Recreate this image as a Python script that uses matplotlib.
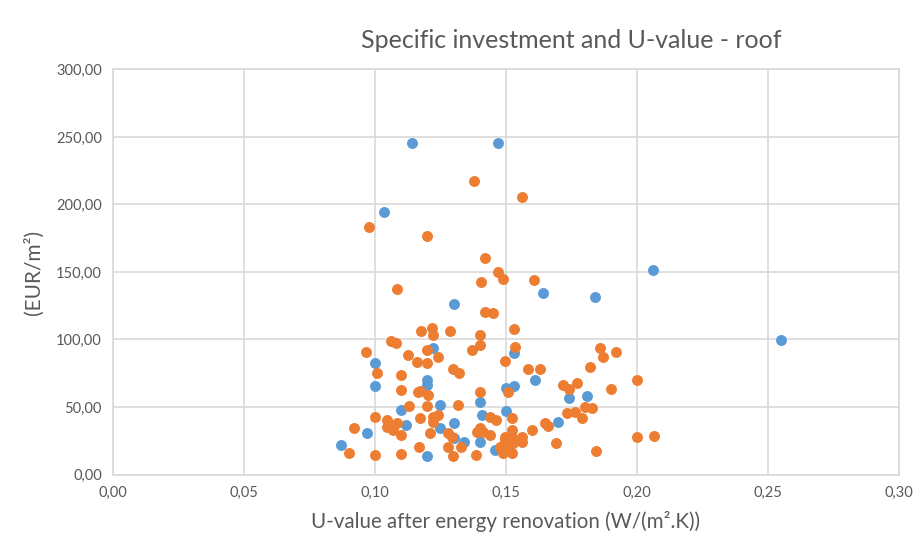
import matplotlib.pyplot as plt
from matplotlib.ticker import FuncFormatter, MultipleLocator

plt.rcParams['font.family'] = ['Lato', 'DejaVu Sans']

# U-value (W/(m2.K)) and specific investment (EUR/m2), two groups of roofs
u_blue = [0.087, 0.097, 0.100, 0.100, 0.110, 0.112, 0.122, 0.120, 0.120,
          0.125, 0.130, 0.125, 0.130, 0.134, 0.120, 0.140, 0.141, 0.140,
          0.146, 0.150, 0.153, 0.150, 0.153, 0.161, 0.174, 0.170, 0.181,
          0.114, 0.147, 0.1035, 0.130, 0.164, 0.184, 0.206, 0.255]
cost_blue = [21.9, 30.5, 82.8, 65.8, 47.8, 36.7, 93.5, 70.0, 66.3,
             51.5, 37.9, 34.2, 26.8, 24.3, 13.7, 53.9, 44.1, 24.3,
             18.1, 63.9, 65.6, 47.3, 89.8, 70.0, 56.4, 39.1, 58.1,
             245.3, 245.8, 194.7, 126.3, 134.7, 131.5, 151.5, 99.6]

u_orange = [0.0966, 0.1006, 0.106, 0.108, 0.1127, 0.1159, 0.110, 0.110,
            0.1164, 0.113, 0.100, 0.1045, 0.1045, 0.1083, 0.107, 0.110,
            0.092, 0.090, 0.100, 0.110, 0.117, 0.1176, 0.1219, 0.1222,
            0.1286, 0.140, 0.140, 0.1369, 0.153, 0.1534, 0.1496, 0.1197,
            0.1242, 0.120, 0.1299, 0.1322, 0.1585, 0.163, 0.1719, 0.177,
            0.1509, 0.1172, 0.1203, 0.140, 0.120, 0.1318, 0.1732, 0.1763,
            0.1439, 0.1464, 0.1522, 0.1172, 0.1222, 0.1242, 0.1222, 0.165,
            0.1661, 0.1598, 0.140, 0.1413, 0.1388, 0.1522, 0.1522, 0.1496,
            0.1528, 0.156, 0.156, 0.121, 0.128, 0.1293, 0.1439, 0.128,
            0.133, 0.1299, 0.1385, 0.1477, 0.1503, 0.149, 0.1522, 0.1496,
            0.1693, 0.1859, 0.1871, 0.192, 0.182, 0.200, 0.1742, 0.190,
            0.1789, 0.1802, 0.1827, 0.200, 0.2065, 0.1844, 0.1379, 0.156,
            0.0977, 0.120, 0.1421, 0.147, 0.149, 0.1405, 0.1608, 0.1083,
            0.1421, 0.1449]
cost_orange = [91.0, 75.4, 99.1, 97.6, 88.5, 83.6, 73.7, 62.6,
               61.3, 51.0, 42.4, 40.4, 35.4, 37.9, 33.0, 29.3,
               34.2, 15.7, 14.4, 15.0, 20.6, 106.3, 108.3, 103.3,
               106.5, 103.3, 95.9, 92.2, 107.6, 94.2, 84.3, 92.2,
               87.3, 82.8, 77.9, 75.0, 77.9, 77.9, 66.3, 67.6,
               61.3, 62.1, 58.9, 61.3, 50.7, 51.5, 45.8, 46.5,
               42.8, 40.4, 41.6, 41.6, 42.8, 44.1, 39.1, 37.9,
               35.9, 33.0, 34.2, 31.7, 31.7, 33.0, 28.0, 28.0,
               23.1, 28.0, 24.3, 30.5, 30.5, 28.0, 29.3, 20.6,
               20.6, 13.7, 14.4, 20.6, 19.4, 15.7, 15.7, 25.6,
               23.1, 93.5, 86.8, 91.0, 79.4, 70.0, 63.1, 63.3,
               41.6, 49.8, 49.0, 28.0, 28.5, 17.6, 217.6, 205.3,
               183.1, 176.7, 160.1, 150.2, 144.6, 142.8, 144.1, 137.4,
               120.1, 119.6]

grid_color = '#D9D9D9'
text_color = '#595959'

fig = plt.figure(figsize=(9.19, 5.42), dpi=100)
ax = fig.add_axes([0.123, 0.1245, 0.855, 0.7475])

ax.scatter(u_blue, cost_blue, s=62, color='#5B9BD5', linewidths=0, zorder=3)
ax.scatter(u_orange, cost_orange, s=62, color='#ED7D31', linewidths=0, zorder=4)

ax.set_xlim(0, 0.30)
ax.set_ylim(0, 300)
ax.xaxis.set_major_locator(MultipleLocator(0.05))
ax.yaxis.set_major_locator(MultipleLocator(50))
comma = FuncFormatter(lambda v, pos: f'{v:.2f}'.replace('.', ','))
ax.xaxis.set_major_formatter(comma)
ax.yaxis.set_major_formatter(comma)

ax.grid(True, color=grid_color, linewidth=1.2, zorder=0)
for side in ax.spines.values():
    side.set_color(grid_color)
    side.set_linewidth(1.2)
ax.tick_params(length=0, colors=text_color, labelsize=10.5, pad=8)

ax.set_xlabel('U-value after energy renovation (W/(m².K))',
              color=text_color, fontsize=14.8, labelpad=8)
ax.set_ylabel('(EUR/m²)', color=text_color, fontsize=15, labelpad=9)
fig.text(0.622, 0.925, 'Specific investment and U-value - roof',
         ha='center', va='center', color=text_color, fontsize=18)

fig.savefig('out.png', dpi=100, facecolor='white')
